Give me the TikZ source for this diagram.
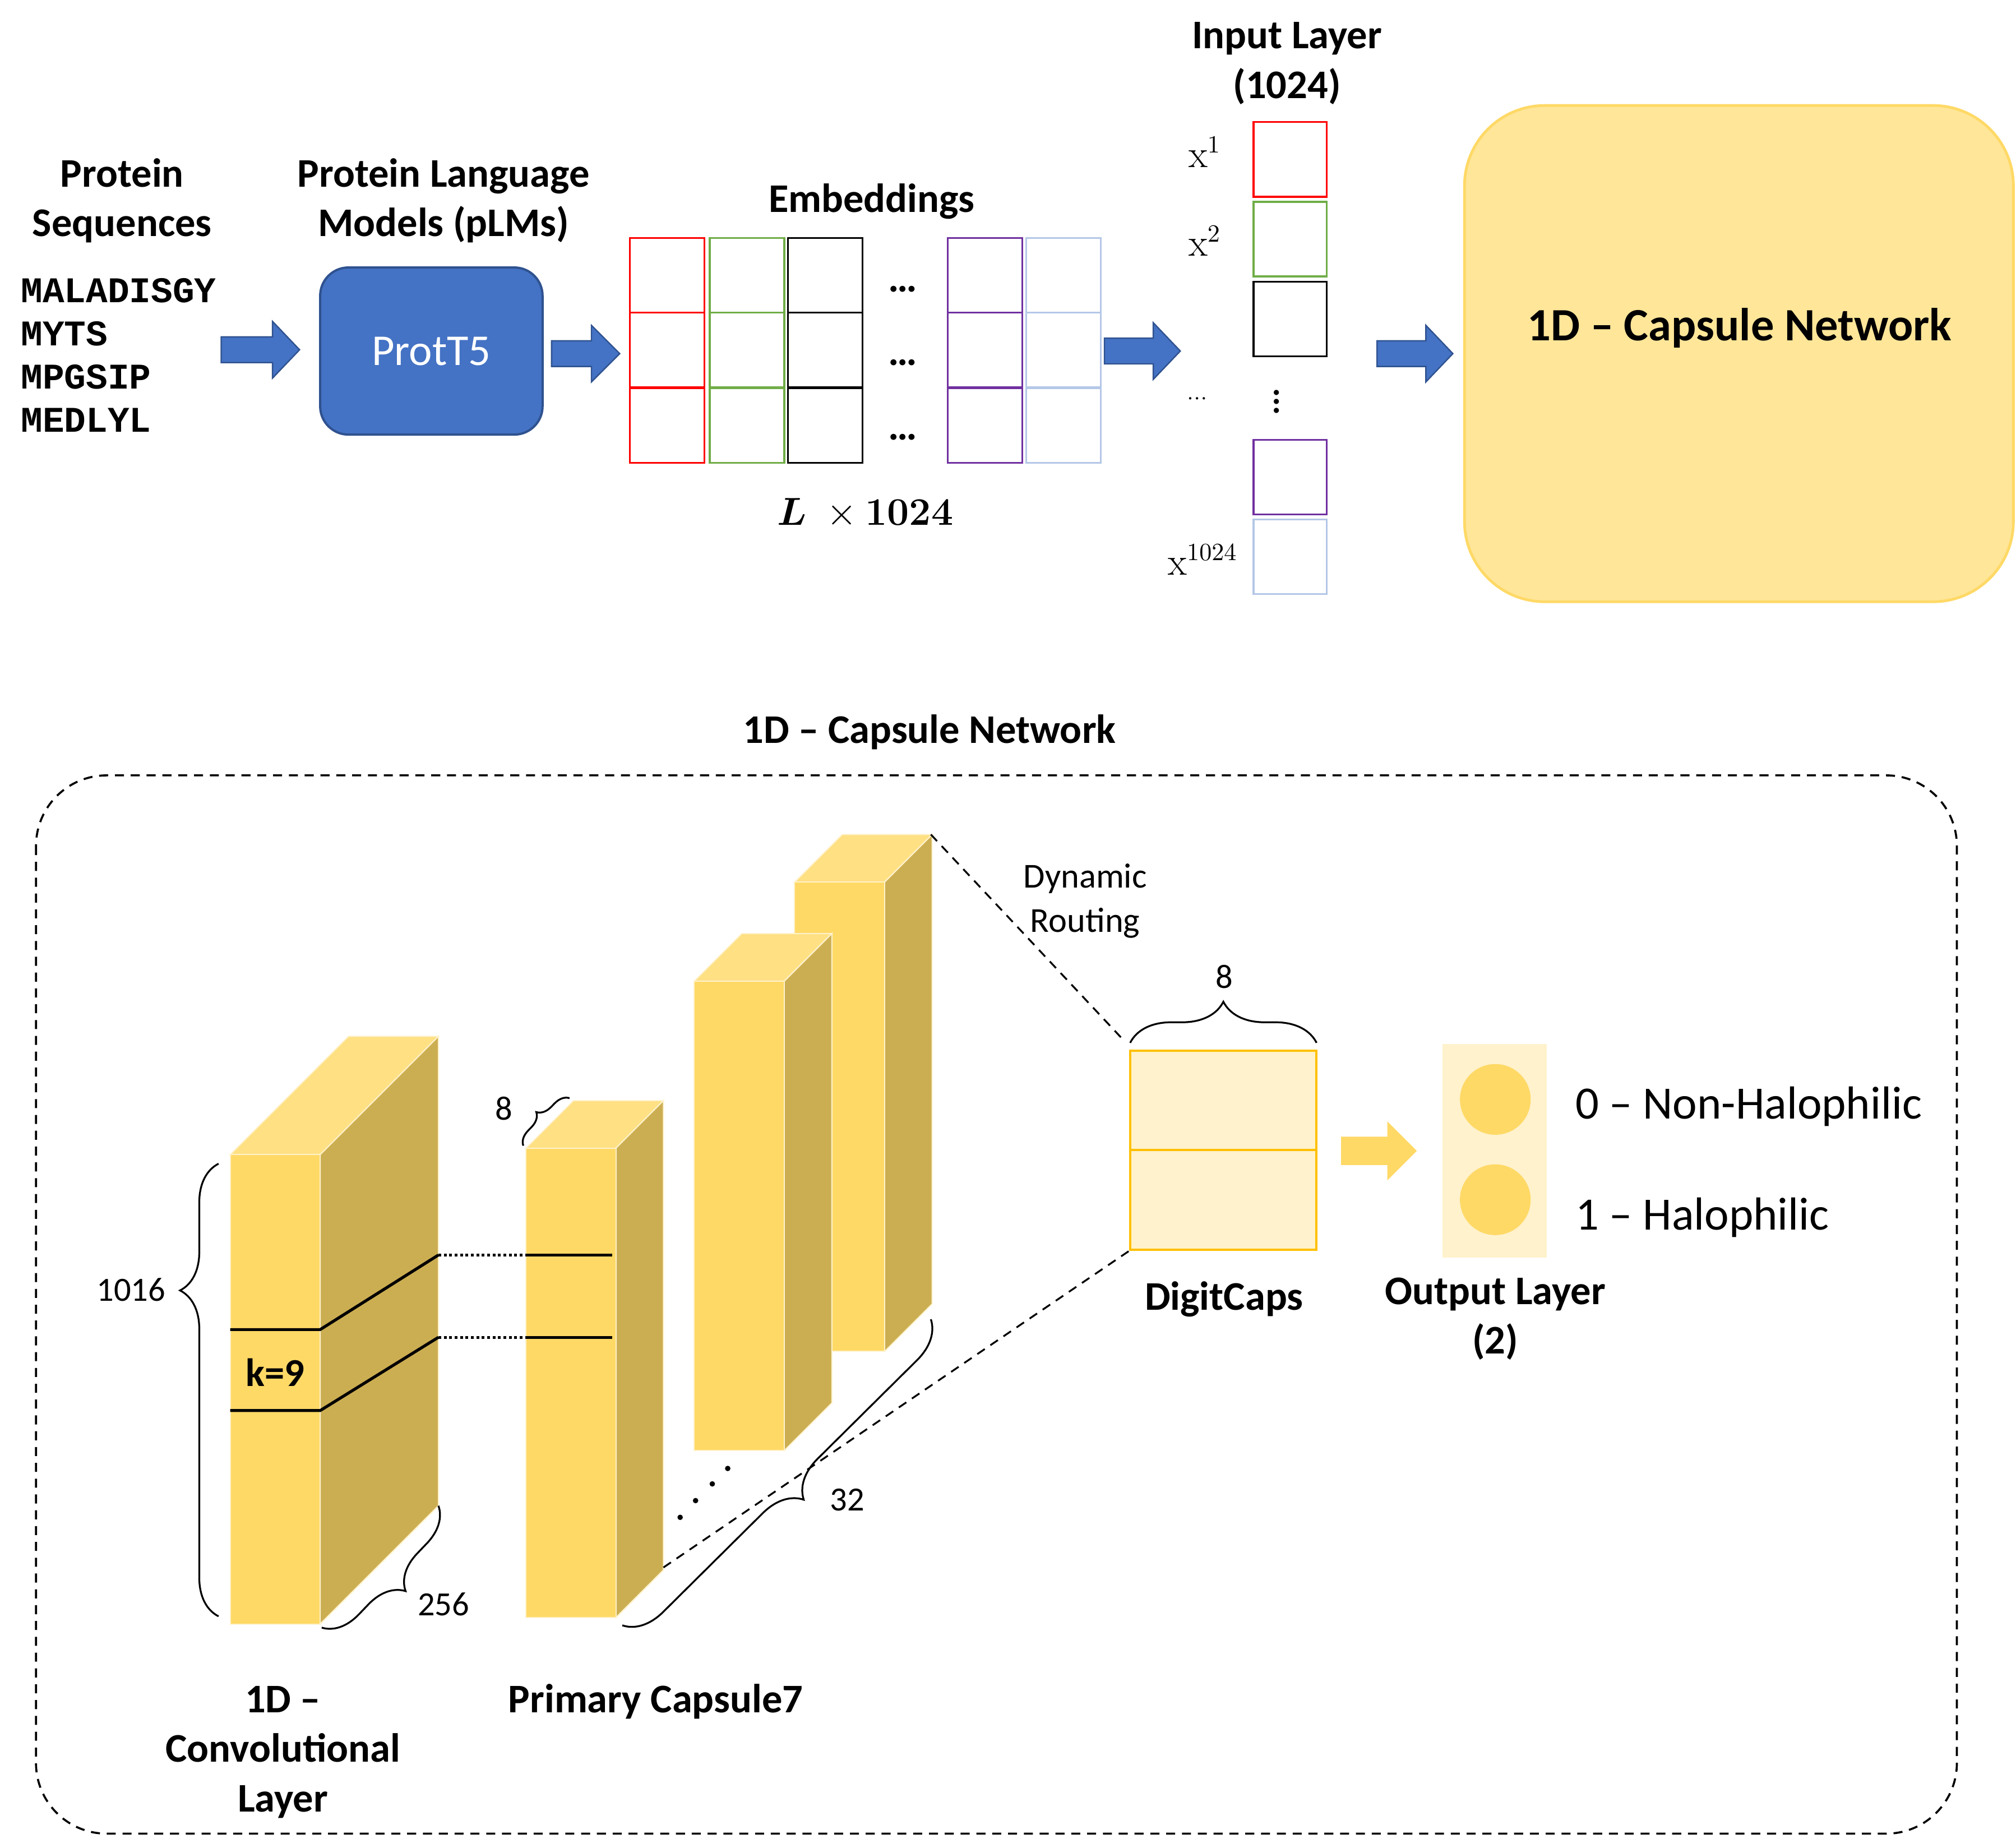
\documentclass[tikz,border=0pt]{standalone}
\usepackage{amsmath}
\usepackage[no-math]{fontspec}
\setmainfont{Carlito}
\newfontfamily\seqfont{Liberation Mono}
\newfontfamily\serfont{Liberation Serif}
\usetikzlibrary{decorations.pathreplacing}

\definecolor{plmblue}{HTML}{4472C4}
\definecolor{plmedge}{HTML}{2F528F}
\definecolor{capfill}{HTML}{FFE699}
\definecolor{capedge}{HTML}{FFD966}
\definecolor{capfront}{HTML}{FFD966}
\definecolor{captop}{HTML}{FFE083}
\definecolor{capside}{HTML}{CCAE52}
\definecolor{paleyellow}{HTML}{FFF2CC}
\definecolor{gold}{HTML}{FFC000}
\definecolor{embgreen}{HTML}{70AD47}
\definecolor{embpurple}{HTML}{7030A0}
\definecolor{emblight}{HTML}{B4C7E7}

\tikzset{
  title/.style={font=\fontsize{18}{22}\selectfont\bfseries, align=center, inner sep=0pt, anchor=base},
  numtext/.style={font=\fontsize{15}{18}\selectfont, inner sep=0pt, anchor=base},
  classtext/.style={font=\fontsize{20.5}{24}\selectfont, inner sep=0pt, anchor=base west},
  xlab/.style={font=\fontsize{16}{19}\selectfont, inner sep=0pt, anchor=base},
  cell/.style={line width=0.8pt},
  bluearrow/.style={fill=plmblue, draw=plmedge, line width=0.6pt},
  routing/.style={dash pattern=on 4pt off 3pt, line width=0.8pt},
  curly/.style={decorate, decoration={brace, amplitude=#1}, line width=0.8pt},
  face/.style={draw=paleyellow, line width=0.5pt},
}

\begin{document}
\begin{tikzpicture}[x=0.02cm, y=-0.02cm]
\useasboundingbox (0,0) rectangle (1568,1437);

% top row (base = last line)
\node[title] (seqtitle) at (95,184) {Protein\\Sequences};
\node[title] (plmtitle) at (345,184) {Protein Language\\Models (pLMs)};
\node[title] (embtitle) at (678,165) {Embeddings};
\node[title] (inputtitle) at (1001,76.5) {Input Layer\\(1024)};
\node[anchor=base west, inner sep=0pt, align=left, font=\fontsize{16}{19.1}\selectfont\seqfont\bfseries] (seqs) at (16,336) {MALADISGY\\MYTS\\MPGSIP\\MEDLYL};
\node[draw=plmedge, fill=plmblue, line width=1pt, rounded corners=0.44cm, minimum width=3.46cm, minimum height=2.6cm, text=white, font=\fontsize{19.5}{23}\selectfont] (prott5) at (335.5,273) {ProtT5};

% embeddings
\foreach \x/\c in {490/red, 552/embgreen, 613/black, 737/embpurple, 798/emblight} {
  \foreach \y in {185,243,302} {
    \draw[cell, \c] (\x,\y) rectangle +(58,58);
  }
}
\foreach \y in {225,282,340} {
  \node[font=\fontsize{18}{22}\selectfont\bfseries, inner sep=0pt] (dots\y) at (702,\y) {…};
}
\node[anchor=base, inner sep=0pt, font=\fontsize{17.5}{21}\selectfont] (lxtext) at (673,408.5) {$\boldsymbol{L}\;\times\mathbf{1024}$};

% input layer
\foreach \y/\c in {95/red, 157/embgreen, 219/black, 342/embpurple, 404/emblight} {
  \draw[cell, \c] (975,\y) rectangle +(57,58);
}
\node[xlab] (x1) at (937,130) {$\mathrm{x}^{1}$};
\node[xlab] (x2) at (937,199) {$\mathrm{x}^{2}$};
\node[xlab] (x1024) at (935.5,447) {$\mathrm{x}^{1024}$};
\node[font=\fontsize{9}{11}\selectfont\serfont, inner sep=0pt] (xdots) at (931,310) {…};
\node[font=\fontsize{19}{22}\selectfont, inner sep=0pt] (vdots) at (993,307) {$\vdots$};

% block arrows
\foreach \xa/\xb/\xc/\yc in {172/212/233/272, 429/460/482/275, 859/897/918/273, 1071/1109/1130/275} {
  \draw[bluearrow] (\xa,\yc-10) -- (\xb,\yc-10) -- (\xb,\yc-22) -- (\xc,\yc) -- (\xb,\yc+22) -- (\xb,\yc+10) -- (\xa,\yc+10) -- cycle;
}

% capsule network box
\node[fill=capfill, draw=capedge, line width=1.2pt, rounded corners=1.25cm, minimum width=8.54cm, minimum height=7.72cm] (capsnet) at (1352.5,275) {};
\node[title, font=\fontsize{20.5}{24}\selectfont\bfseries] (capsnettext) at (1353,265) {1D -- Capsule Network};

% bottom part
\node[title] (capstitle) at (723,578) {1D -- Capsule Network};
\draw[routing, line width=0.9pt, rounded corners=1.1cm] (28,603) rectangle (1522,1426);

% slabs, back to front
\foreach \x/\y/\d in {618/686/37, 540/763/37, 409/893/37, 179/898/92} {
  \filldraw[face, fill=captop] (\x,\y) -- (\x+\d,\y-\d) -- (\x+70+\d,\y-\d) -- (\x+70,\y) -- cycle;
  \filldraw[face, fill=capside] (\x+70,\y) -- (\x+70+\d,\y-\d) -- (\x+70+\d,\y+365-\d) -- (\x+70,\y+365) -- cycle;
  \filldraw[face, fill=capfront] (\x,\y) rectangle (\x+70,\y+365);
}

% kernel
\coordinate (k1) at (341,976);
\coordinate (k2) at (341,1040);
\coordinate (p1) at (409,976);
\coordinate (p2) at (409,1040);
\draw[line width=1.3pt] (179,1034) -- (249,1034) -- (k1);
\draw[line width=1.3pt] (179,1097) -- (249,1097) -- (k2);
\draw[line width=1.2pt, dash pattern=on 1.2pt off 1.2pt] (k1) -- (p1) (k2) -- (p2);
\draw[line width=1.3pt] (p1) -- +(67,0) (p2) -- +(67,0);
\node[font=\fontsize{17.5}{21}\selectfont\bfseries, inner sep=0pt, anchor=base] (kernel) at (214,1078) {k=9};

% braces
\draw[curly=0.6cm, decoration={aspect=0.72}] (170,1257) -- (170,905);
\node[numtext] (n1016) at (102,1012) {1016};
\draw[curly=0.55cm] (341,1171) -- (250,1266);
\node[numtext] (n256) at (345,1256.5) {256};
\draw[curly=0.22cm] (407,891) -- (443,854);
\node[numtext] (n8a) at (392,871) {8};
\draw[curly=0.6cm] (724,1026) -- (484,1264);
\node[numtext] (n32) at (659,1175) {32};
\foreach \x/\y in {529/1180, 541/1167, 554/1154, 566/1142} {
  \fill (\x,\y) circle (1.2pt);
}

% digit caps
\node[draw=gold, fill=paleyellow, line width=1pt, minimum width=2.9cm, minimum height=3.1cm, inner sep=0pt] (digit) at (951.5,894.5) {};
\draw[gold, line width=1pt] (digit.west) -- (digit.east);
\draw[curly=0.64cm] (879,811) -- (1024,811);
\node[numtext] (n8b) at (952,768.5) {8};
\coordinate (backtop) at (724,649);
\coordinate (frontbottom) at (516,1219);
\coordinate (routeend) at (873,808);
\draw[routing] (backtop) -- (routeend);
\draw[routing] (frontbottom) -- (digit.south west);
\node[title, font=\fontsize{15.5}{19.6}\selectfont] (routelabel) at (844,725) {Dynamic\\Routing};
\node[title] (digitlabel) at (952,1019) {DigitCaps};

% output layer
\fill[capfront] (1043,884) -- (1079,884) -- (1079,872) -- (1102,895) -- (1079,918) -- (1079,906) -- (1043,906) -- cycle;
\node[fill=paleyellow, minimum width=1.62cm, minimum height=3.32cm, inner sep=0pt] (outbox) at (1162.5,895) {};
\node[circle, fill=capfront, minimum size=1.1cm, inner sep=0pt] (out0) at (1163,855) {};
\node[circle, fill=capfront, minimum size=1.1cm, inner sep=0pt] (out1) at (1163,933) {};
\node[classtext] (lab0) at (1225,870) {0 -- Non-Halophilic};
\node[classtext] (lab1) at (1225,956.6) {1 -- Halophilic};
\node[title] (outlabel) at (1163,1053) {Output Layer\\(2)};

% layer names
\node[title] (convlabel) at (220,1409) {1D --\\Convolutional\\Layer};
\node[title] (primlabel) at (510,1332) {Primary Capsule7};
\end{tikzpicture}
\end{document}
